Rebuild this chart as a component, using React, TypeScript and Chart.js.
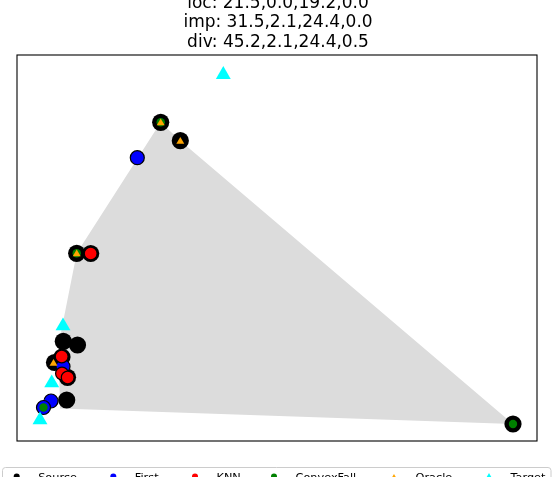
import React, { useEffect, useRef } from "react";
import { Chart, registerables } from "chart.js";

Chart.register(...registerables);

const titleLines = [
  "loc: 21.5,0.0,19.2,0.0",
  "imp: 31.5,2.1,24.4,0.0",
  "div: 45.2,2.1,24.4,0.5",
];

const seriesLabels = ["Source", "First", "KNN", "ConvexFall", "Oracle", "Target"];

// data values (arbitrary units)
const sourceX = [143.7, 163.3, 59.7, 73.7, 46.3, 60.5, 37.5, 45.0, 50.5, 49.7, 496.0];
const sourceY = [318.7, 300.3, 187.7, 187.5, 99.7, 96.0, 78.5, 84.0, 63.7, 41.0, 17.0];

const firstX = [120.3, 46.0, 34.0, 26.5];
const firstY = [283.3, 74.5, 40.0, 33.5];

const knnX = [73.7, 44.7, 45.0, 50.7];
const knnY = [187.5, 84.5, 67.5, 63.5];

const convexX = [496.0, 26.5, 143.7, 59.7];
const convexY = [17.0, 33.5, 318.7, 187.7];

const oracleX = [143.7, 163.3, 59.7, 36.5];
const oracleY = [318.0, 299.5, 187.0, 77.5];

const targetX = [206.3, 46.0, 34.7, 23.0];
const targetY = [366.3, 115.0, 58.0, 21.0];

const hullX = [143.7, 163.3, 496.0, 43.0, 41.5, 59.7, 143.7];
const hullY = [318.7, 300.3, 17.0, 32.5, 96.0, 187.7, 318.7];

const xRange = [0, 520];
const yRange = [0, 386];

const toPts = (xs: number[], ys: number[]) => xs.map((x, i) => ({ x, y: ys[i] }));

// layout of the legend row (pixels)
const legendMarkerX = [16.7, 113.3, 195, 274, 394, 489];
const legendTextDX = 21.5;

const titlePlugin = {
  id: "mplTitle",
  afterDraw(chart: any) {
    const ctx = chart.ctx;
    const area = chart.chartArea;
    const cx = (area.left + area.right) / 2;
    ctx.save();
    ctx.fillStyle = "#000";
    ctx.font = "17px 'DejaVu Sans'";
    ctx.textAlign = "center";
    ctx.textBaseline = "alphabetic";
    const baselines = [7.6, 27.2, 46.8];
    titleLines.forEach((t, i) => ctx.fillText(t, cx + 1, baselines[i]));
    // axes frame
    ctx.strokeStyle = "#000";
    ctx.lineWidth = 1.1;
    ctx.strokeRect(area.left, area.top, area.right - area.left, area.bottom - area.top);
    ctx.restore();
  },
};

const legendPlugin = {
  id: "mplLegend",
  afterDraw(chart: any) {
    const ctx = chart.ctx;
    ctx.save();
    ctx.beginPath();
    (ctx as any).roundRect(2.5, 467.5, 548.5, 40, 3);
    ctx.fillStyle = "rgba(255,255,255,0.8)";
    ctx.fill();
    ctx.strokeStyle = "#cccccc";
    ctx.lineWidth = 1;
    ctx.stroke();
    const my = 476.5;
    const sets = chart.data.datasets.filter((d: any) => d.label && seriesLabels.includes(d.label));
    sets.forEach((d: any) => {
      const idx = seriesLabels.indexOf(d.label);
      const x = legendMarkerX[idx];
      ctx.fillStyle = d.backgroundColor;
      ctx.beginPath();
      if (d.pointStyle === "triangle") {
        const r = d.label === "Target" ? 3.5 : 2.6;
        ctx.moveTo(x, my - r);
        ctx.lineTo(x + r * 0.866, my + r * 0.5);
        ctx.lineTo(x - r * 0.866, my + r * 0.5);
        ctx.closePath();
      } else {
        ctx.arc(x, my, 3, 0, Math.PI * 2);
      }
      ctx.fill();
      ctx.fillStyle = "#000";
      ctx.font = "11.3px 'DejaVu Sans'";
      ctx.textAlign = "left";
      ctx.textBaseline = "alphabetic";
      ctx.fillText(d.label, x + legendTextDX, 481);
    });
    ctx.restore();
  },
};

export default function App() {
  const ref = useRef<HTMLCanvasElement | null>(null);
  useEffect(() => {
    if (!ref.current) return;
    const chart = new Chart(ref.current, {
      type: "scatter",
      data: {
        datasets: [
          {
            label: "hull",
            data: toPts(hullX, hullY),
            showLine: true,
            fill: "shape",
            backgroundColor: "#dcdcdc",
            borderWidth: 0,
            borderColor: "rgba(0,0,0,0)",
            pointRadius: 0,
            tension: 0,
            order: 7,
          } as any,
          {
            label: "Source",
            data: toPts(sourceX, sourceY),
            backgroundColor: "#000000",
            borderColor: "#000000",
            borderWidth: 0,
            pointRadius: 8.6,
            pointStyle: "circle",
            order: 6,
          },
          {
            label: "First",
            data: toPts(firstX, firstY),
            backgroundColor: "#0000ff",
            borderColor: "#000000",
            borderWidth: 1.2,
            pointRadius: 7,
            pointStyle: "circle",
            order: 5,
          },
          {
            label: "KNN",
            data: toPts(knnX, knnY),
            backgroundColor: "#ff0000",
            borderColor: "#000000",
            borderWidth: 1.2,
            pointRadius: 6.4,
            pointStyle: "circle",
            order: 4,
          },
          {
            label: "ConvexFall",
            data: toPts(convexX, convexY),
            backgroundColor: "#008000",
            borderColor: "#008000",
            borderWidth: 0,
            pointRadius: 4.2,
            pointStyle: "circle",
            order: 3,
          },
          {
            label: "Oracle",
            data: toPts(oracleX, oracleY),
            backgroundColor: "#ffa500",
            borderColor: "#ffa500",
            borderWidth: 0,
            pointRadius: 4.6,
            pointStyle: "triangle",
            order: 2,
          },
          {
            label: "Target",
            data: toPts(targetX, targetY),
            backgroundColor: "#00ffff",
            borderColor: "#00ffff",
            borderWidth: 0,
            pointRadius: 8.6,
            pointStyle: "triangle",
            order: 1,
          },
        ],
      },
      options: {
        animation: false,
        responsive: false,
        devicePixelRatio: 1,
        layout: { padding: { left: 17, right: 16, top: 55, bottom: 36 } },
        scales: {
          x: { type: "linear", min: xRange[0], max: xRange[1], display: false },
          y: { type: "linear", min: yRange[0], max: yRange[1], display: false },
        },
        plugins: {
          legend: { display: false },
          title: { display: false },
          tooltip: { enabled: false },
        },
      },
      plugins: [titlePlugin, legendPlugin],
    });
    return () => chart.destroy();
  }, []);
  return (
    <div style={{ position: "absolute", left: 0, top: 0, width: 553, height: 477, background: "#fff" }}>
      <canvas ref={ref} width={553} height={477} style={{ display: "block" }} />
    </div>
  );
}
